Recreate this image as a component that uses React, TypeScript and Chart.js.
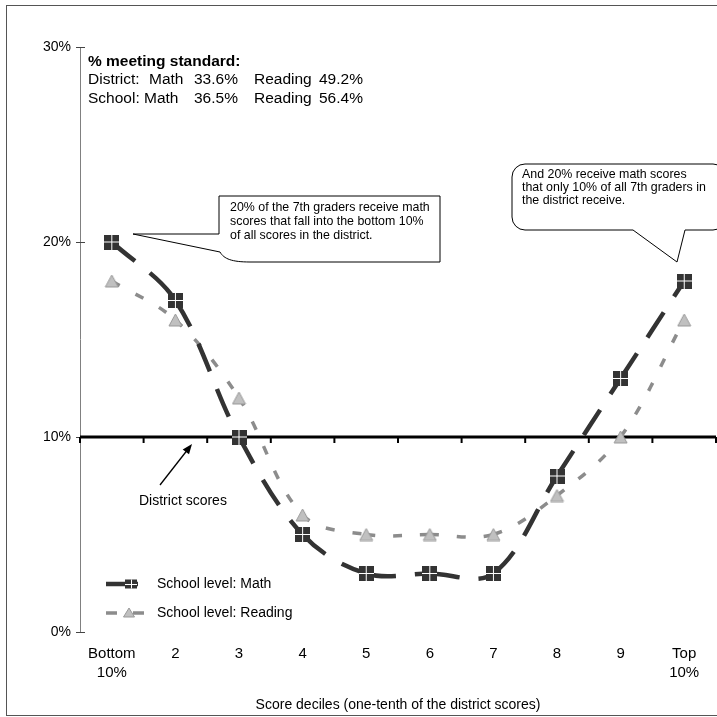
import React, { useEffect, useRef } from "react";
import { Chart, registerables } from "chart.js";

Chart.register(...registerables);

const categories: (string | string[])[] = [["Bottom", "10%"], "2", "3", "4", "5", "6", "7", "8", "9", ["Top", "10%"]];
const mathValues = [20, 17, 10, 5, 3, 3, 3, 8, 13, 18];
const readingValues = [18, 16, 12, 6, 5, 5, 5, 7, 10, 16];
const districtLevel = 10;
const yTicks = [0, 10, 20, 30];
const seriesNames = ["School level: Math", "School level: Reading"];
const axisTitle = "Score deciles (one-tenth of the district scores)";
const headline = "% meeting standard:";
const districtRow = ["District:", "Math", "33.6%", "Reading", "49.2%"];
const schoolRow = ["School:", "Math", "36.5%", "Reading", "56.4%"];
const callout1 = ["20% of the 7th graders receive math", "scores that fall into the bottom 10%", "of all scores in the district."];
const callout2 = ["And 20% receive math scores", "that only 10% of all 7th graders in", "the district receive."];
const districtLabel = "District scores";

const FONT = '"Liberation Sans", Arial, Helvetica, sans-serif';
const MATH_COLOR = "#333333";
const READ_COLOR = "#8c8c8c";

function makeMathMarker(size: number) {
  const c = document.createElement("canvas");
  c.width = size;
  c.height = size;
  const g = c.getContext("2d")!;
  g.fillStyle = MATH_COLOR;
  g.fillRect(0, 0, size, size);
  g.fillStyle = "#ffffff";
  const m = Math.floor(size / 2);
  g.fillRect(m, 0, 1, size);
  g.fillRect(0, m, size, 1);
  return c;
}

function makeTriangle(w: number, h: number) {
  const c = document.createElement("canvas");
  c.width = w;
  c.height = h;
  const g = c.getContext("2d")!;
  g.beginPath();
  g.moveTo(w / 2, 1);
  g.lineTo(w - 1, h - 1);
  g.lineTo(1, h - 1);
  g.closePath();
  g.fillStyle = "#c0c0c0";
  g.fill();
  g.strokeStyle = "#999999";
  g.lineWidth = 1;
  g.stroke();
  return c;
}

const decor = {
  id: "decor",
  beforeDatasetsDraw(chart: any) {
    const ctx = chart.ctx as CanvasRenderingContext2D;
    const { left, right } = chart.chartArea;
    const ys = chart.scales.y;
    ctx.save();
    ctx.strokeStyle = "#808080";
    ctx.lineWidth = 1;
    ctx.beginPath();
    ctx.moveTo(left + 0.5, ys.getPixelForValue(30));
    ctx.lineTo(left + 0.5, ys.getPixelForValue(0));
    ctx.stroke();
    ctx.strokeStyle = "#444";
    yTicks.forEach((v) => {
      const y = Math.round(ys.getPixelForValue(v)) + 0.5;
      ctx.beginPath();
      ctx.moveTo(left - 4, y);
      ctx.lineTo(left + 5, y);
      ctx.stroke();
    });
    const yd = ys.getPixelForValue(districtLevel);
    ctx.strokeStyle = "#000";
    ctx.lineWidth = 3;
    ctx.beginPath();
    ctx.moveTo(left, yd);
    ctx.lineTo(right, yd);
    ctx.stroke();
    ctx.lineWidth = 2;
    const n = categories.length;
    for (let i = 0; i <= n; i++) {
      const x = left + (i * (right - left)) / n;
      ctx.beginPath();
      ctx.moveTo(x, yd);
      ctx.lineTo(x, yd + 6);
      ctx.stroke();
    }
    ctx.restore();
  },
  afterDraw(chart: any) {
    const ctx = chart.ctx as CanvasRenderingContext2D;
    ctx.save();
    ctx.strokeStyle = "#555";
    ctx.lineWidth = 1;
    ctx.strokeRect(6.5, 5.5, 740, 710);

    ctx.fillStyle = "#000";
    ctx.textBaseline = "middle";
    ctx.textAlign = "left";
    ctx.font = `bold 15.5px ${FONT}`;
    ctx.fillText(headline, 88, 62);
    ctx.font = `15.5px ${FONT}`;
    const x1 = [88, 149, 194, 254, 319];
    const x2 = [88, 144, 194, 254, 319];
    districtRow.forEach((t, i) => ctx.fillText(t, x1[i], 80));
    schoolRow.forEach((t, i) => ctx.fillText(t, x2[i], 99));

    ctx.beginPath();
    ctx.moveTo(219, 196);
    ctx.lineTo(440, 196);
    ctx.lineTo(440, 262);
    ctx.lineTo(250, 262);
    ctx.bezierCurveTo(232, 262, 224, 259, 220, 252);
    ctx.lineTo(133, 234);
    ctx.lineTo(219, 234);
    ctx.closePath();
    ctx.fillStyle = "#fff";
    ctx.fill();
    ctx.strokeStyle = "#000";
    ctx.lineWidth = 1;
    ctx.stroke();
    ctx.fillStyle = "#000";
    ctx.font = `12.4px ${FONT}`;
    callout1.forEach((t, i) => ctx.fillText(t, 230, 208 + i * 14));

    const X0 = 512, Y0 = 164, X1 = 726, Y1 = 230, r = 13;
    ctx.beginPath();
    ctx.moveTo(X0 + r, Y0);
    ctx.lineTo(X1 - r, Y0);
    ctx.arcTo(X1, Y0, X1, Y0 + r, r);
    ctx.lineTo(X1, Y1 - r);
    ctx.arcTo(X1, Y1, X1 - r, Y1, r);
    ctx.lineTo(685, Y1);
    ctx.lineTo(677, 262);
    ctx.lineTo(633, Y1);
    ctx.lineTo(X0 + r, Y1);
    ctx.arcTo(X0, Y1, X0, Y1 - r, r);
    ctx.lineTo(X0, Y0 + r);
    ctx.arcTo(X0, Y0, X0 + r, Y0, r);
    ctx.closePath();
    ctx.fillStyle = "#fff";
    ctx.fill();
    ctx.stroke();
    ctx.fillStyle = "#000";
    callout2.forEach((t, i) => ctx.fillText(t, 522, 175 + i * 12.7));

    ctx.strokeStyle = "#000";
    ctx.lineWidth = 1.3;
    const ax0 = 160, ay0 = 485, ax1 = 192, ay1 = 444;
    const ang = Math.atan2(ay1 - ay0, ax1 - ax0);
    ctx.beginPath();
    ctx.moveTo(ax0, ay0);
    ctx.lineTo(ax1 - 6 * Math.cos(ang), ay1 - 6 * Math.sin(ang));
    ctx.stroke();
    ctx.beginPath();
    ctx.moveTo(ax1, ay1);
    ctx.lineTo(ax1 - 10 * Math.cos(ang) + 4 * Math.sin(ang), ay1 - 10 * Math.sin(ang) - 4 * Math.cos(ang));
    ctx.lineTo(ax1 - 10 * Math.cos(ang) - 4 * Math.sin(ang), ay1 - 10 * Math.sin(ang) + 4 * Math.cos(ang));
    ctx.closePath();
    ctx.fillStyle = "#000";
    ctx.fill();
    ctx.font = `14px ${FONT}`;
    ctx.fillText(districtLabel, 139, 501);

    const ly1 = 584, ly2 = 613;
    ctx.lineCap = "butt";
    ctx.strokeStyle = MATH_COLOR;
    ctx.lineWidth = 4.5;
    ctx.beginPath();
    ctx.moveTo(106, ly1);
    ctx.lineTo(138, ly1);
    ctx.stroke();
    ctx.fillStyle = MATH_COLOR;
    ctx.fillRect(125, ly1 - 4.5, 12, 9);
    ctx.fillStyle = "#fff";
    ctx.fillRect(131, ly1 - 4.5, 1, 9);
    ctx.fillRect(125, ly1, 12, 1);
    ctx.strokeStyle = READ_COLOR;
    ctx.lineWidth = 3.5;
    ctx.beginPath();
    ctx.moveTo(106, ly2);
    ctx.lineTo(117, ly2);
    ctx.moveTo(133, ly2);
    ctx.lineTo(144, ly2);
    ctx.stroke();
    ctx.beginPath();
    ctx.moveTo(129, ly2 - 5);
    ctx.lineTo(134.5, ly2 + 4);
    ctx.lineTo(123.5, ly2 + 4);
    ctx.closePath();
    ctx.fillStyle = "#c0c0c0";
    ctx.fill();
    ctx.strokeStyle = "#999";
    ctx.lineWidth = 1;
    ctx.stroke();
    ctx.fillStyle = "#000";
    ctx.font = `14px ${FONT}`;
    ctx.fillText(seriesNames[0], 157, ly1);
    ctx.fillText(seriesNames[1], 157, ly2);
    ctx.restore();
  },
};

export default function App() {
  const ref = useRef<HTMLCanvasElement | null>(null);
  useEffect(() => {
    if (!ref.current) return;
    const mathMarker = makeMathMarker(15);
    const tri = makeTriangle(15, 14);
    const alt = (c: any) => (c.p0DataIndex % 2 ? 0.001 : 0);
    const chart = new Chart(ref.current, {
      type: "line",
      data: {
        labels: categories as any,
        datasets: [
          {
            label: seriesNames[0],
            data: mathValues,
            borderColor: MATH_COLOR,
            borderWidth: 4.5,
            borderDash: [30, 19],
            borderCapStyle: "butt",
            tension: 0.35,
            pointStyle: mathMarker as any,
            pointRadius: 7,
            pointHoverRadius: 7,
            fill: false,
            segment: { borderDashOffset: alt },
          },
          {
            label: seriesNames[1],
            data: readingValues,
            borderColor: READ_COLOR,
            borderWidth: 3.5,
            borderDash: [9, 18],
            borderCapStyle: "butt",
            tension: 0.35,
            pointStyle: tri as any,
            pointRadius: 7,
            pointHoverRadius: 7,
            fill: false,
            segment: { borderDashOffset: alt },
          },
        ],
      },
      options: {
        animation: false,
        responsive: false,
        maintainAspectRatio: false,
        events: [],
        layout: { autoPadding: false, padding: { top: 47, right: 1, left: 0, bottom: 0 } },
        plugins: { legend: { display: false }, tooltip: { enabled: false } },
        scales: {
          x: {
            type: "category",
            offset: true,
            grid: { display: false, drawTicks: false },
            border: { display: false },
            ticks: {
              color: "#000",
              font: { family: FONT, size: 15, lineHeight: 1.27 },
              padding: 12,
              maxRotation: 0,
              autoSkip: false,
            },
            title: {
              display: true,
              text: axisTitle,
              color: "#000",
              font: { family: FONT, size: 14 },
              padding: { top: 0, bottom: 3 },
            },
            afterFit: (s: any) => {
              s.height = 85;
              s.paddingLeft = 0;
              s.paddingRight = 0;
            },
          },
          y: {
            min: 0,
            max: 30,
            ticks: {
              stepSize: 10,
              color: "#000",
              font: { family: FONT, size: 14 },
              padding: 9,
              callback: (v: any) => v + "%",
            },
            grid: { display: false, drawTicks: false },
            border: { display: false },
            afterFit: (s: any) => {
              s.width = 80;
              s.paddingTop = 0;
              s.paddingBottom = 0;
            },
          },
        },
      },
      plugins: [decor],
    });
    return () => chart.destroy();
  }, []);
  return (
    <div style={{ position: "fixed", left: 0, top: 0, width: 717, height: 717, background: "#fff" }}>
      <canvas ref={ref} width={717} height={717} style={{ display: "block" }} />
    </div>
  );
}
